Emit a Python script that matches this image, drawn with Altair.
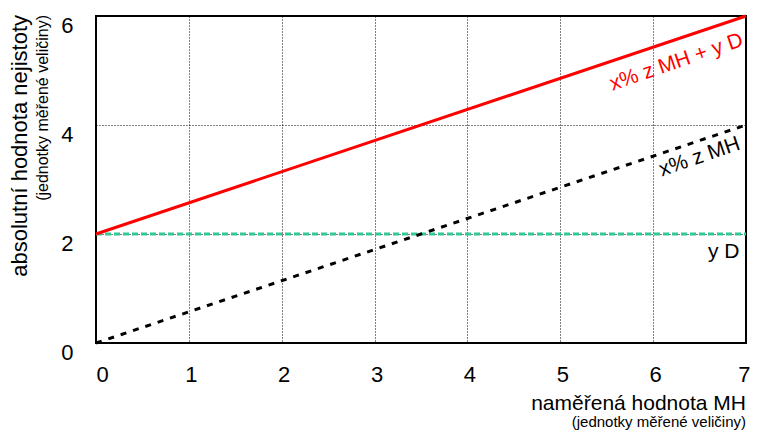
import altair as alt
import pandas as pd

# data
x_vals = [0, 7]
y_total = [2, 6]      # x% z MH + y D
y_rel = [0, 4]        # x% z MH
y_const = [2, 2]      # y D

x_ticks = [0, 1, 2, 3, 4, 5, 6, 7]
y_ticks = [0, 2, 4, 6]

label_text = ["x% z MH + y D", "x% z MH", "y D"]
label_x = [6.25, 6.5, 6.76]
label_y = [5.15, 3.41, 1.67]
label_color = ["#ff0000", "#000000", "#000000"]
label_angle = [341, 341, 0]

FONT = "Liberation Sans"
W, H = 650, 327

lines = pd.DataFrame({
    "x": x_vals * 3,
    "y": y_total + y_rel + y_const,
    "s": ["total"] * 2 + ["rel"] * 2 + ["const"] * 2,
})

xs = alt.Scale(domain=[0, 7], nice=False, zero=False)
ys = alt.Scale(domain=[0, 6], nice=False, zero=False)

xaxis = alt.Axis(values=x_ticks, format="d", grid=True, gridColor="#000000", gridDash=[1, 2],
                 gridWidth=1, gridOpacity=1, domain=False, ticks=False, labelFontSize=22,
                 labelFont=FONT, labelColor="#000000", labelPadding=21, labelOffset=2,
                 title=None, labelFlush=True, labelFlushOffset=2)
yaxis = alt.Axis(values=y_ticks, format="d", grid=True, gridColor="#000000", gridDash=[1, 2],
                 gridWidth=1, gridOpacity=1, domain=False, ticks=False, labelFontSize=22,
                 labelFont=FONT, labelColor="#000000", labelPadding=23, labelOffset=9,
                 title=None, labelFlush=False)

base = alt.Chart(lines)

grid = alt.Chart(pd.DataFrame({"x": [0], "y": [0]})).mark_point(opacity=0).encode(
    x=alt.X("x:Q", scale=xs, axis=xaxis),
    y=alt.Y("y:Q", scale=ys, axis=yaxis),
)

const_line = base.transform_filter(alt.datum.s == "const").mark_line(
    color="#33c896", strokeWidth=3, strokeDash=[6, 3]
).encode(x=alt.X("x:Q", scale=xs), y=alt.Y("y:Q", scale=ys))

rel_line = base.transform_filter(alt.datum.s == "rel").mark_line(
    color="#000000", strokeWidth=3, strokeDash=[6, 7]
).encode(x=alt.X("x:Q", scale=xs), y=alt.Y("y:Q", scale=ys))

total_line = base.transform_filter(alt.datum.s == "total").mark_line(
    color="#ff0000", strokeWidth=3
).encode(x=alt.X("x:Q", scale=xs), y=alt.Y("y:Q", scale=ys))

labels_df = pd.DataFrame({"t": label_text, "x": label_x, "y": label_y,
                          "c": label_color, "a": label_angle})
labels = alt.Chart(labels_df).mark_text(font=FONT, fontSize=21, align="center",
                                        baseline="middle").encode(
    x=alt.X("x:Q", scale=xs), y=alt.Y("y:Q", scale=ys), text="t:N",
    color=alt.Color("c:N", scale=None), angle=alt.Angle("a:Q", scale=None),
)

ytitle = alt.Chart(pd.DataFrame({"t": ["absolutní hodnota nejistoty"]})).mark_text(
    font=FONT, fontSize=22, angle=270, align="right", baseline="middle", color="#000000"
).encode(text="t:N", x=alt.value(-76), y=alt.value(-1))

ysub = alt.Chart(pd.DataFrame({"t": ["(jednotky měřené veličiny)"]})).mark_text(
    font=FONT, fontSize=16, angle=270, align="right", baseline="middle", color="#000000"
).encode(text="t:N", x=alt.value(-53), y=alt.value(-1))

xtitle = alt.Chart(pd.DataFrame({"t": ["naměřená hodnota MH"]})).mark_text(
    font=FONT, fontSize=21, align="right", baseline="alphabetic", color="#000000"
).encode(text="t:N", x=alt.value(W), y=alt.value(H + 67))

xsub = alt.Chart(pd.DataFrame({"t": ["(jednotky měřené veličiny)"]})).mark_text(
    font=FONT, fontSize=15, align="right", baseline="alphabetic", color="#000000"
).encode(text="t:N", x=alt.value(W), y=alt.value(H + 84))

chart = alt.layer(grid, const_line, rel_line, total_line, labels, ytitle, ysub, xtitle, xsub).properties(
    width=W, height=H,
    autosize=alt.AutoSizeParams(type="none"),
    padding={"left": 88, "top": 8, "right": 4, "bottom": 88},
    background="#ffffff",
).configure_view(stroke="#000000", strokeWidth=2)

chart.save("out.html", embed_options={"renderer": "svg", "actions": False})
